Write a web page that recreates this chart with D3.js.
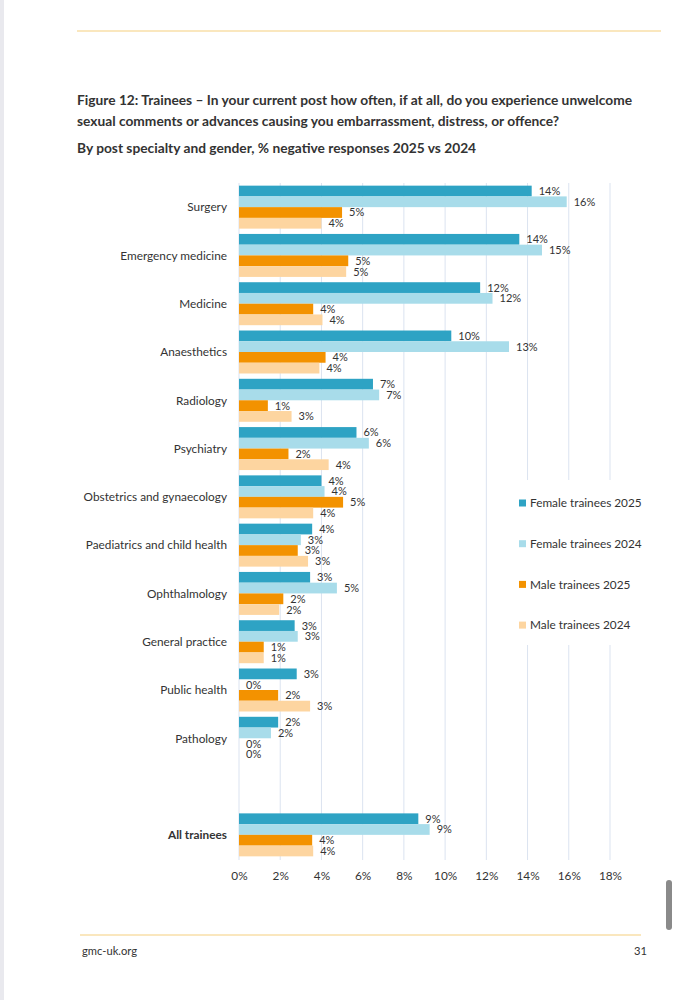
<!DOCTYPE html>
<html>
<head>
	<meta http-equiv="Content-Type" content="text/html;charset=utf-8">
	<title>Figure 12</title>
	<script src="https://d3js.org/d3.v7.min.js"></script>
	<style type="text/css">
		body { margin: 0; background: #fff; }
		text { font-family: Lato, "Open Sans", sans-serif; fill: #333; }
		.grid line { stroke: #dbe3f0; stroke-width: 1px; }
	</style>
</head>
<body>
	<svg width="677" height="1000"></svg>

	<script type="text/javascript">
		// chart data
		var specialties = ["Surgery", "Emergency medicine", "Medicine", "Anaesthetics", "Radiology",
			"Psychiatry", "Obstetrics and gynaecology", "Paediatrics and child health", "Ophthalmology",
			"General practice", "Public health", "Pathology", "", "All trainees"];
		var seriesNames = ["Female trainees 2025", "Female trainees 2024", "Male trainees 2025", "Male trainees 2024"];
		var female2025 = [14.2, 13.6, 11.7, 10.3, 6.5, 5.7, 4.0, 3.55, 3.45, 2.7, 2.8, 1.9, null, 8.7];
		var female2024 = [15.9, 14.7, 12.3, 13.1, 6.8, 6.3, 4.15, 3.0, 4.75, 2.85, 0, 1.55, null, 9.25];
		var male2025 = [5.0, 5.3, 3.6, 4.2, 1.4, 2.4, 5.05, 2.85, 2.15, 1.2, 1.9, 0, null, 3.55];
		var male2024 = [4.0, 5.2, 4.05, 3.9, 2.55, 4.35, 3.6, 3.35, 1.95, 1.2, 3.45, 0, null, 3.6];
		var colors = ["#2ea3c4", "#a8dcea", "#f39200", "#fdd5a0"];
		var xTicks = [0, 2, 4, 6, 8, 10, 12, 14, 16, 18];

		var svg = d3.select("svg");
		var seriesVals = [female2025, female2024, male2025, male2024];

		// page furniture
		svg.append("rect").attr("x", 0).attr("y", 0).attr("width", 4).attr("height", 1000).attr("fill", "#e9e9ee");
		svg.append("line").attr("x1", 77).attr("x2", 661).attr("y1", 31).attr("y2", 31)
			.attr("stroke", "#f8dfa8").attr("stroke-width", 1.5);
		svg.append("line").attr("x1", 80).attr("x2", 641).attr("y1", 935).attr("y2", 935)
			.attr("stroke", "#f8dfa8").attr("stroke-width", 1.5);
		svg.append("text").attr("x", 82).attr("y", 955).attr("font-size", 11.2).text("gmc-uk.org");
		svg.append("text").attr("x", 647).attr("y", 955).attr("font-size", 11.2).attr("text-anchor", "end").text("31");
		svg.append("rect").attr("x", 666).attr("y", 880).attr("width", 6).attr("height", 50).attr("rx", 3)
			.attr("fill", "#8a8a8a");

		// titles
		var titleLines = ["Figure 12: Trainees \u2013 In your current post how often, if at all, do you experience unwelcome",
			"sexual comments or advances causing you embarrassment, distress, or offence?"];
		titleLines.forEach(function (t, i) {
			svg.append("text").attr("x", 77).attr("y", 105 + i * 21).attr("font-size", 13.75)
				.attr("font-weight", "bold").attr("fill", "#111").text(t);
		});
		svg.append("text").attr("x", 77).attr("y", 153).attr("font-size", 13.75)
			.attr("font-weight", "bold").attr("fill", "#111")
			.text("By post specialty and gender, % negative responses 2025 vs 2024");

		// scales
		var x = d3.scaleLinear().domain([0, 18]).range([239, 610]);
		var y = d3.scaleBand().domain(specialties).range([183, 859]).paddingInner(0.11).paddingOuter(0.055);
		var yInner = d3.scaleBand().domain(d3.range(4)).range([0, y.bandwidth()]);

		// gridlines
		var grid = svg.append("g").attr("class", "grid");
		grid.selectAll("line").data(xTicks).enter().append("line")
			.attr("x1", function (d) { return x(d); })
			.attr("x2", function (d) { return x(d); })
			.attr("y1", 183).attr("y2", 860);

		// bars
		var groups = svg.selectAll("g.cat").data(specialties).enter().append("g")
			.attr("class", "cat")
			.attr("transform", function (d) { return "translate(0," + y(d) + ")"; });
		groups.each(function (cat, ci) {
			var g = d3.select(this);
			if (cat === "") return;
			seriesVals.forEach(function (vals, si) {
				var v = vals[ci];
				g.append("rect").attr("x", x(0)).attr("y", yInner(si))
					.attr("width", x(v) - x(0)).attr("height", yInner.bandwidth())
					.attr("fill", colors[si]);
				g.append("text").attr("x", x(v) + 7).attr("y", yInner(si) + yInner.bandwidth() / 2)
					.attr("dy", "0.36em").attr("font-size", 11).attr("fill", "#404040")
					.text(Math.round(v) + "%");
			});
		});

		// category axis labels
		svg.selectAll("text.cat").data(specialties).enter().append("text")
			.attr("class", "cat")
			.attr("x", 227).attr("y", function (d) { return y(d) + y.bandwidth() / 2; })
			.attr("dy", "0.36em").attr("text-anchor", "end").attr("font-size", 11.8)
			.attr("font-weight", function (d) { return d === "All trainees" ? "bold" : "normal"; })
			.attr("fill", function (d) { return d === "All trainees" ? "#111" : "#333"; })
			.text(function (d) { return d; });

		// x axis tick labels
		var xAxis = svg.append("g").attr("transform", "translate(0,860)")
			.call(d3.axisBottom(x).tickValues(xTicks).tickSize(0).tickPadding(12)
				.tickFormat(function (d) { return d + "%"; }));
		xAxis.select(".domain").remove();
		xAxis.selectAll("text").attr("font-size", 11.8).attr("fill", "#333")
			.style("font-family", "Lato, 'Open Sans', sans-serif");

		// legend with white box hiding gridlines
		svg.append("rect").attr("x", 512).attr("y", 480).attr("width", 150).attr("height", 165).attr("fill", "#fff");
		var legend = svg.selectAll("g.leg").data(seriesNames).enter().append("g")
			.attr("class", "leg")
			.attr("transform", function (d, i) { return "translate(519," + (503 + i * 40.7) + ")"; });
		legend.append("rect").attr("x", 0).attr("y", -3.5).attr("width", 7).attr("height", 7)
			.attr("fill", function (d, i) { return colors[i]; });
		legend.append("text").attr("x", 11).attr("dy", "0.36em").attr("font-size", 11.8)
			.attr("fill", "#333").text(function (d) { return d; });
	</script>
</body>
</html>
